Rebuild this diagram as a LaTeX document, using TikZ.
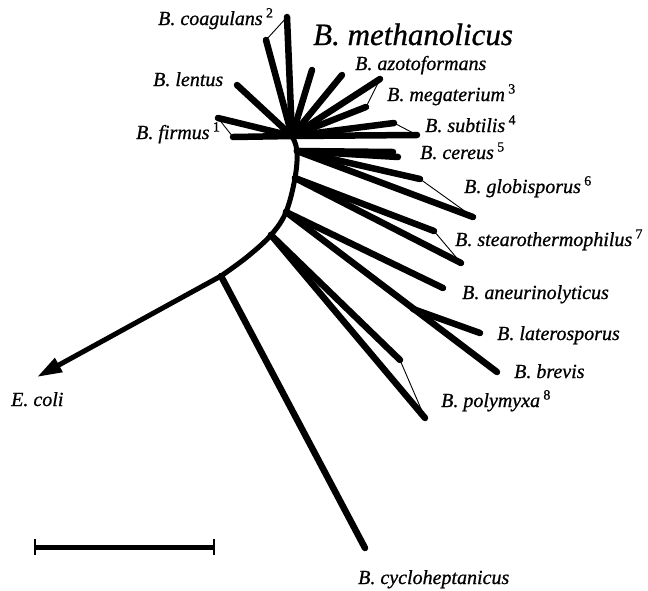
\documentclass[tikz,border=0pt]{standalone}
\usepackage{fontspec}
\setmainfont{Liberation Serif}
\newfontfamily\taxfont{Liberation Serif}[FakeBold=0.8]
\usetikzlibrary{arrows.meta}

\tikzset{
  branch/.style={line width=6.5pt, line cap=round, line join=round},
  spine/.style={line width=5pt, line cap=round, line join=round},
  outline/.style={line width=0.9pt},
  taxon/.style={font=\taxfont\fontsize{20}{22}\selectfont\itshape, inner sep=0pt, anchor=base west},
}

\begin{document}
\begin{tikzpicture}[x=1pt, y=-1pt]
  \useasboundingbox (0,0) rectangle (648,590);

  % Backbone nodes
  \coordinate (hub)  at (292,136);
  \coordinate (nB)   at (297,151);
  \coordinate (nS)   at (295,178);
  \coordinate (nL)   at (286,212);
  \coordinate (nP)   at (271,235);
  \coordinate (nQ)   at (247,257);
  \coordinate (root) at (221,276);

  % Branch tips
  \coordinate (cgA) at (287,17);   \coordinate (cgB) at (266,40);
  \coordinate (lnT) at (237,85);
  \coordinate (fmA) at (218,118);  \coordinate (fmB) at (233,137);
  \coordinate (mtA) at (312,70);   \coordinate (mtB) at (342,75);
  \coordinate (mgA) at (380,79);   \coordinate (mgB) at (366,107);
  \coordinate (sbA) at (394,123);  \coordinate (sbB) at (417,135);
  \coordinate (crA) at (393,152);  \coordinate (crB) at (398,157);
  \coordinate (glA) at (420,179);  \coordinate (glB) at (473,217);
  \coordinate (stA) at (434,231);  \coordinate (stB) at (461,263);
  \coordinate (anT) at (443,288);
  \coordinate (lbS) at (413,309);
  \coordinate (ltT) at (480,333);  \coordinate (bvT) at (497,372);
  \coordinate (pmA) at (400,360);  \coordinate (pmB) at (425,418);
  \coordinate (cyT) at (365,548);
  \coordinate (ecT) at (37,377);

  % Backbone and outgroup
  \draw[spine] plot[smooth, tension=0.6] coordinates {(hub) (nB) (nS) (nL) (nP) (nQ) (root)};
  \draw[spine, -{Triangle[length=25pt, width=15pt]}] (root) -- (ecT);

  % Single branches
  \foreach \from/\to in {hub/lnT, hub/mtA, hub/mtB, nL/anT, nL/bvT, lbS/ltT, root/cyT}
    \draw[branch] (\from) -- (\to);

  % Clusters: two branches closed by a thin edge
  \foreach \from/\a/\b in {hub/cgA/cgB, hub/fmA/fmB, hub/mgA/mgB, hub/sbA/sbB,
                           nB/crA/crB, nB/glA/glB, nS/stA/stB, nP/pmA/pmB} {
    \draw[branch] (\from) -- (\a);
    \draw[branch] (\from) -- (\b);
    \draw[outline] (\a) -- (\b);
  }

  % Labels
  \node[taxon] (lbCoag)  at (158,25)  {B. coagulans\,\textsuperscript{\upshape 2}};
  \node[taxon, font=\taxfont\fontsize{31}{33}\selectfont\itshape] (lbMeth) at (313,45) {B. methanolicus};
  \node[taxon] (lbLent)  at (153,86)  {B. lentus};
  \node[taxon] (lbFirm)  at (136,139) {B. firmus\,\textsuperscript{\upshape 1}};
  \node[taxon] (lbAzot)  at (355,70)  {B. azotoformans};
  \node[taxon] (lbMega)  at (387,101) {B. megaterium\,\textsuperscript{\upshape 3}};
  \node[taxon] (lbSubt)  at (425,132) {B. subtilis\,\textsuperscript{\upshape 4}};
  \node[taxon] (lbCere)  at (420,159) {B. cereus\,\textsuperscript{\upshape 5}};
  \node[taxon] (lbGlob)  at (464,193) {B. globisporus\,\textsuperscript{\upshape 6}};
  \node[taxon] (lbStea)  at (455,246) {B. stearothermophilus\,\textsuperscript{\upshape 7}};
  \node[taxon] (lbAneu)  at (462,299) {B. aneurinolyticus};
  \node[taxon] (lbLate)  at (497,340) {B. laterosporus};
  \node[taxon] (lbBrev)  at (514,378) {B. brevis};
  \node[taxon] (lbPoly)  at (441,407) {B. polymyxa\,\textsuperscript{\upshape 8}};
  \node[taxon] (lbEcol)  at (11,406)  {E. coli};
  \node[taxon] (lbCycl)  at (358,584) {B. cycloheptanicus};

  % Scale bar
  \coordinate (barL) at (35,547);
  \coordinate (barR) at (214,547);
  \draw[line width=5pt] (barL) -- (barR);
  \draw[line width=1.2pt] ([yshift=8pt]barL) -- ([yshift=-8pt]barL);
  \draw[line width=1.2pt] ([yshift=8pt]barR) -- ([yshift=-8pt]barR);
\end{tikzpicture}
\end{document}
